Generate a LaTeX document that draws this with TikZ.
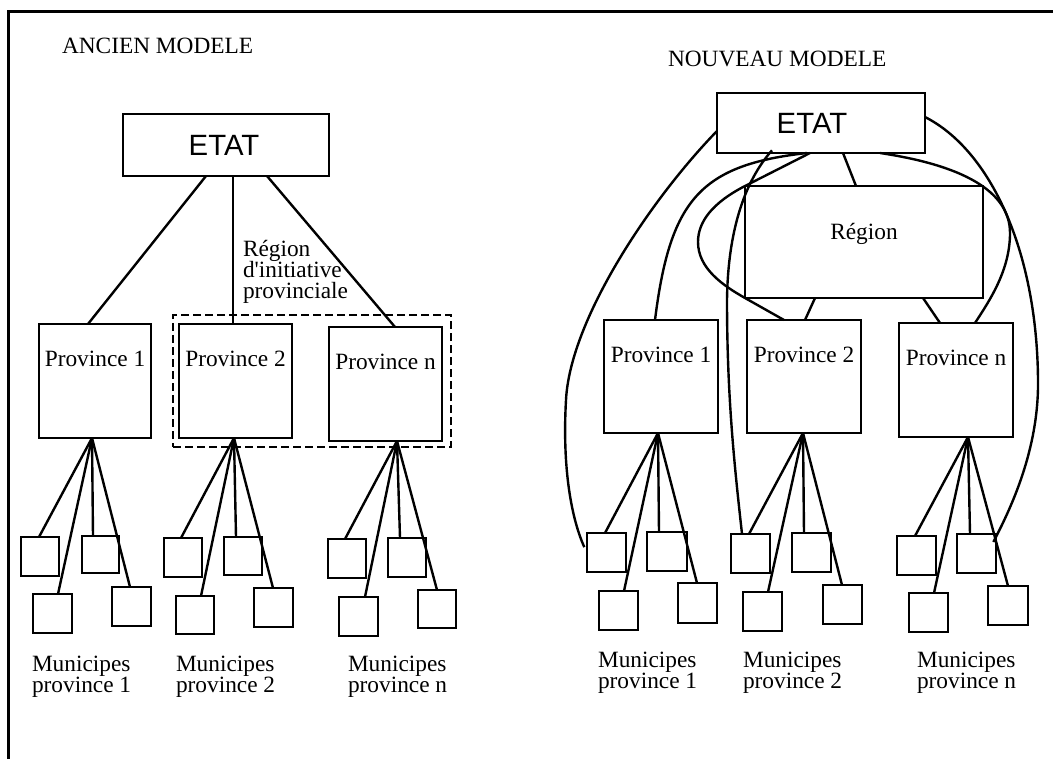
\documentclass[tikz,border=0pt]{standalone}
\usepackage{fontspec}
\setmainfont{Liberation Serif}
\newfontfamily\etatfont{Liberation Sans}
\usetikzlibrary{fit}
\newcommand\bx[6]{\node[box, fit={(#2,#3) (#4,#5)}, #6] (#1) {};}
\begin{document}
\begin{tikzpicture}[x=0.75pt,y=-0.75pt, line width=1.8pt,
  box/.style={draw, rectangle, inner sep=0pt, outer sep=0pt},
  txt/.style={inner sep=0pt, outer sep=0pt, font=\fontsize{17.5}{15.5}\selectfont, align=left},
  etat/.style={inner sep=0pt, font=\etatfont\fontsize{22}{22}\selectfont},
  prov/.style={txt, anchor=base, yshift=-31.5pt},
  rip/.style={draw, dashed, dash pattern=on 6pt off 3pt, rectangle, inner sep=0pt}]
\useasboundingbox (0,0) rectangle (1053,759);
% frame
\draw[line width=2pt] (8.5,759) -- (8.5,11.5) -- (1053,11.5);

% ===== ANCIEN MODELE =====
\node[txt, anchor=base west] (tL) at (62,54) {ANCIEN MODELE};
\bx{etatL}{123}{114}{329}{176}{label={[etat, xshift=-1.5pt]center:ETAT}}
\bx{lp1}{39}{324}{151}{438}{label={[prov]north:Province 1}}
\bx{lp2}{179}{324}{292}{438}{label={[prov]north:Province 2}}
\bx{lpn}{329}{327}{442}{441}{label={[prov]north:Province n}}
\node[rip, fit={(173,315) (451,447)}] (ripbox) {};
\node[txt, anchor=base west, font=\fontsize{17.5}{16}\selectfont] (ripL) at (243,299) {Région\\d\textquotesingle initiative\\provinciale};

\bx{lm1a}{21}{537}{59}{576}{}
\bx{lm1b}{82}{536}{119}{573}{}
\bx{lm1c}{33}{594}{72}{633}{}
\bx{lm1d}{112}{587}{151}{626}{}
\bx{lm2a}{164}{538}{202}{577}{}
\bx{lm2b}{224}{537}{262}{575}{}
\bx{lm2c}{176}{596}{214}{634}{}
\bx{lm2d}{254}{588}{293}{627}{}
\bx{lmna}{328}{539}{366}{578}{}
\bx{lmnb}{388}{538}{426}{577}{}
\bx{lmnc}{339}{597}{378}{636}{}
\bx{lmnd}{418}{590}{456}{628}{}

\node[txt, anchor=base west] (lmt1) at (32,692) {Municipes\\province 1};
\node[txt, anchor=base west] (lmt2) at (176,692) {Municipes\\province 2};
\node[txt, anchor=base west] (lmtn) at (348,692) {Municipes\\province n};

\draw (etatL.south -| 206,0) -- (lp1.north -| 88,0);
\draw (etatL.south -| 233,0) -- (lp2.north -| 233,0);
\draw (etatL.south -| 267,0) -- (lpn.north -| 395,0);

\foreach \b/\x in {lm1a/39, lm1c/58, lm1b/93, lm1d/130}
  \draw (lp1.south -| 92,0) -- (\b.north -| \x,0);
\foreach \b/\x in {lm2a/181, lm2c/201, lm2b/236, lm2d/273}
  \draw (lp2.south -| 234,0) -- (\b.north -| \x,0);
\foreach \b/\x in {lmna/345, lmnc/365, lmnb/400, lmnd/437}
  \draw (lpn.south -| 397,0) -- (\b.north -| \x,0);

% ===== NOUVEAU MODELE =====
\node[txt, anchor=base west] (tR) at (668,67) {NOUVEAU MODELE};
\bx{etatR}{717}{93}{925}{153}{label={[etat, xshift=-6.75pt]center:ETAT}}
\bx{reg}{745}{186}{983}{298}{label={[txt, anchor=base, yshift=-40.5pt]north:Région}}
\bx{rp1}{604}{320}{718}{433}{label={[prov]north:Province 1}}
\bx{rp2}{747}{320}{861}{433}{label={[prov]north:Province 2}}
\bx{rpn}{899}{323}{1013}{437}{label={[prov]north:Province n}}

\bx{rm1a}{587}{533}{626}{572}{}
\bx{rm1b}{647}{532}{687}{571}{}
\bx{rm1c}{599}{591}{638}{630}{}
\bx{rm1d}{678}{583}{717}{623}{}
\bx{rm2a}{731}{534}{770}{573}{}
\bx{rm2b}{792}{533}{831}{572}{}
\bx{rm2c}{743}{592}{782}{631}{}
\bx{rm2d}{823}{585}{862}{624}{}
\bx{rmna}{897}{536}{936}{575}{}
\bx{rmnb}{957}{534}{996}{573}{}
\bx{rmnc}{909}{593}{948}{632}{}
\bx{rmnd}{988}{586}{1028}{625}{}

\node[txt, anchor=base west] (rmt1) at (598,688) {Municipes\\province 1};
\node[txt, anchor=base west] (rmt2) at (743,688) {Municipes\\province 2};
\node[txt, anchor=base west] (rmtn) at (917,688) {Municipes\\province n};

\foreach \b/\x in {rm1a/605, rm1c/624, rm1b/659, rm1d/697}
  \draw (rp1.south -| 658,0) -- (\b.north -| \x,0);
\foreach \b/\x in {rm2a/749, rm2c/768, rm2b/804, rm2d/842}
  \draw (rp2.south -| 803,0) -- (\b.north -| \x,0);
\foreach \b/\x in {rmna/915, rmnc/934, rmnb/970, rmnd/1008}
  \draw (rpn.south -| 968,0) -- (\b.north -| \x,0);

% straight links
\draw (etatR.south -| 843,0) -- (reg.north -| 856,0);
\draw (reg.south -| 815,0) -- (rp2.north -| 805,0);
\draw (reg.south -| 923,0) -- (rpn.north -| 940,0);

% curved links
\draw (etatR.west |- 0,131) .. controls (650,200) and (570,320) .. (566,400)
      .. controls (562,470) and (572,520) .. ([xshift=-2pt,yshift=4pt]rm1a.west);
\draw (etatR.south -| 810,0) -- (reg.north west)
      .. controls (712,203) and (698,222) .. (698,242)
      .. controls (698,268) and (722,285) .. (reg.south west) -- (rp2.north -| 784,0);
\draw (etatR.south -| 807,0) .. controls (700,165) and (670,200) .. (rp1.north -| 655,0);
\draw ([yshift=2pt]etatR.south -| 772,0) .. controls (750,175) and (728,220) .. (727,300)
      .. controls (727,400) and (735,470) .. (rm2a.north -| 742,0);
\draw (etatR.south -| 880,0) .. controls (960,165) and (1010,190) .. (1010,233)
      .. controls (1010,270) and (990,300) .. (rpn.north -| 975,0);
\draw (etatR.east |- 0,117) .. controls (990,150) and (1037,250) .. (1038,380)
      .. controls (1039,450) and (1010,510) .. ([xshift=-2pt,yshift=-6pt]rmnb.north east);
\end{tikzpicture}
\end{document}
